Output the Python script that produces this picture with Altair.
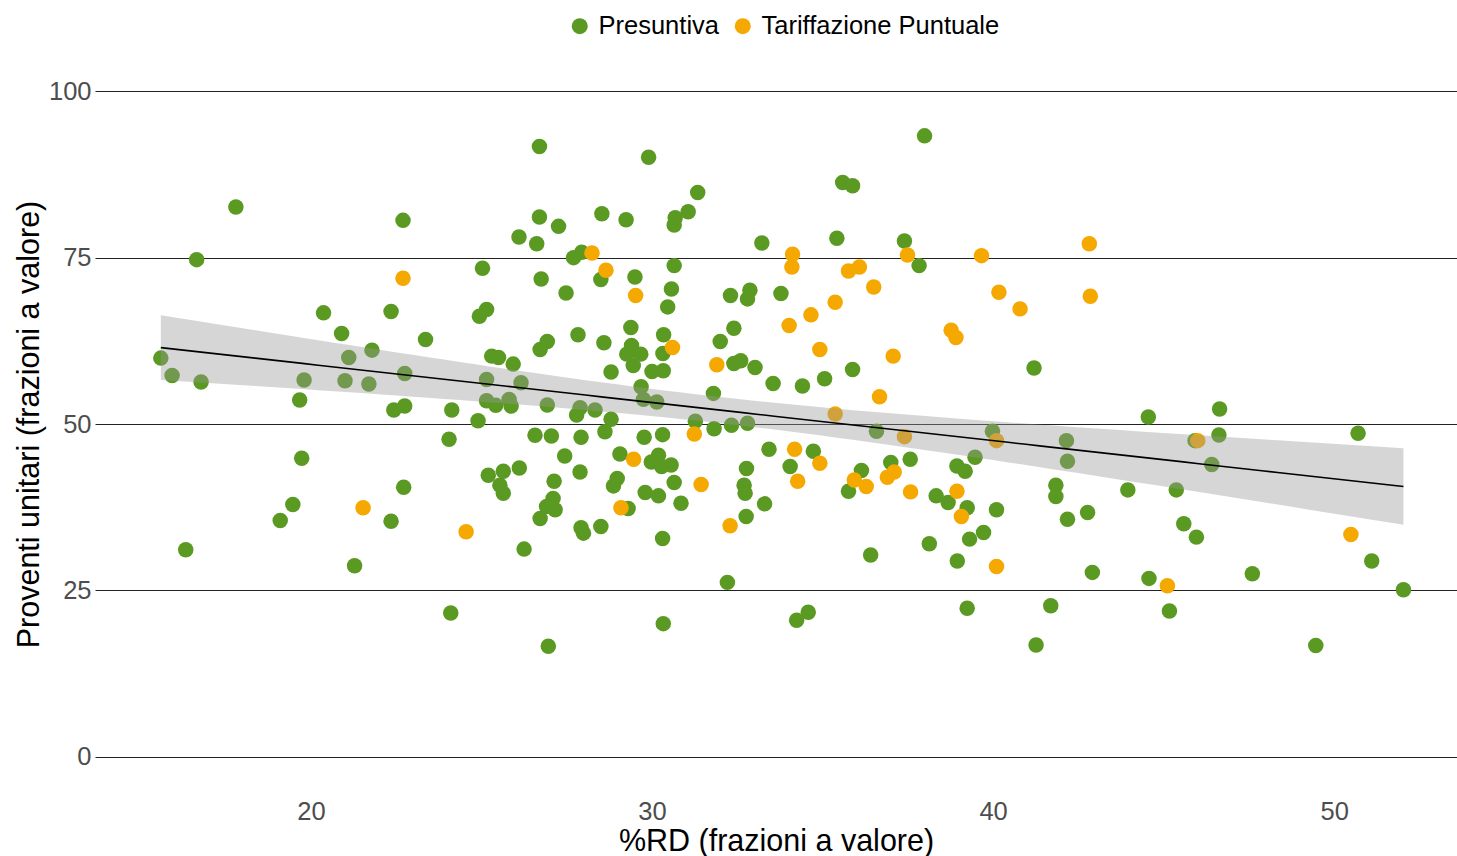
import altair as alt
import numpy as np
import pandas as pd

# ---- data ----
pres_x = [17.8, 22.7, 16.65, 20.37, 22.35, 20.9, 23.36, 21.79, 21.11, 15.6, 15.93, 16.78, 19.8, 21.0, 21.7,
          22.75, 19.67, 22.43, 22.75, 19.73, 22.72, 19.47, 19.1, 22.35, 16.33, 21.28,
          26.7, 29.9, 31.34, 31.06, 30.68, 30.65, 26.7, 28.53, 29.24, 27.26, 26.1, 26.62, 27.94, 27.7,
          25.03, 28.5, 26.75, 29.5, 30.65, 27.48, 30.57, 30.46, 32.3, 32.4, 32.0, 25.15, 24.94, 29.38,
          30.34, 30.32, 27.83, 28.59, 26.93, 26.72, 25.3, 25.5, 25.93, 29.4, 29.26, 29.67, 29.45, 32.4,
          32.6, 28.8, 30.0, 30.33,
          25.15, 26.16, 29.68, 29.75, 30.14, 31.8, 25.15, 25.42, 25.81, 25.87, 26.93, 27.89, 28.33, 27.79,
          28.8, 24.13, 24.9, 24.05, 31.27, 31.82, 32.33, 32.8, 26.57, 27.05, 27.92, 28.62, 29.77, 30.31,
          27.44, 29.06, 30.19, 29.98, 30.28, 30.56, 30.65, 30.85, 29.8, 30.19, 28.87, 28.98, 29.3, 27.89,
          27.13, 27.1, 26.91, 27.16, 26.72, 25.2, 25.64, 26.11, 25.54, 25.64, 27.92, 27.99, 28.5, 26.25,
          30.31, 32.21, 24.1, 30.33, 26.96, 32.77, 32.7, 32.73, 32.76,
          37.99, 35.59, 35.88, 33.22, 35.42, 37.4, 37.83, 32.87, 32.8, 33.78, 33.02, 35.88, 41.2, 33.55,
          34.41, 35.06, 36.58, 39.98, 39.47, 33.43, 34.73, 34.05, 33.3, 37.0, 37.57, 36.14, 35.76, 38.94,
          39.18, 38.33, 38.68, 39.24, 40.1, 39.72, 39.31, 38.13, 38.95, 36.41, 34.58, 34.24, 39.24, 41.26,
          44.55, 46.64, 50.7, 42.15, 42.18, 45.92, 46.62, 46.41, 41.84, 41.84, 43.95, 45.37, 42.18, 42.77,
          45.59, 45.96, 51.1, 52.03, 42.91, 44.57, 47.6, 41.69, 45.17, 49.46]
pres_y = [82.6, 80.6, 74.7, 66.7, 66.9, 63.6, 62.7, 61.1, 60.0, 59.9, 57.3, 56.3, 56.6, 56.5, 56.0,
          57.6, 53.6, 52.1, 52.7, 44.85, 40.5, 37.9, 35.5, 35.4, 31.1, 28.7,
          91.7, 90.1, 84.8, 81.9, 81.0, 79.9, 81.1, 81.6, 80.7, 79.7, 78.1, 77.1, 75.8, 75.0,
          73.4, 71.7, 71.8, 72.1, 73.8, 69.7, 70.3, 67.6, 69.3, 64.4, 62.4, 67.2, 66.2, 64.5,
          63.4, 60.6, 63.4, 62.2, 62.4, 61.2, 60.2, 60.0, 59.0, 61.8, 60.5, 60.5, 58.8, 59.1,
          59.5, 57.8, 57.9, 58.0,
          56.7, 56.2, 55.6, 53.7, 53.3, 54.6, 53.5, 52.8, 53.7, 52.7, 52.85, 52.45, 52.1, 51.35,
          50.7, 52.1, 50.5, 47.7, 50.4, 49.3, 49.8, 50.1, 48.3, 48.2, 48.0, 48.85, 48.0, 48.4,
          45.2, 45.5, 45.3, 44.3, 43.6, 43.85, 41.2, 38.1, 39.7, 39.2, 40.7, 41.8, 37.3, 42.8,
          41.4, 38.8, 37.6, 37.1, 35.8, 42.3, 42.9, 43.4, 40.8, 39.6, 34.4, 33.6, 34.6, 31.2,
          32.8, 26.2, 21.6, 20.0, 16.6, 43.3, 40.8, 39.6, 36.1,
          93.3, 86.3, 85.8, 77.2, 77.9, 77.5, 73.8, 70.1, 68.8, 69.6, 58.5, 58.2, 58.4, 56.1,
          55.7, 56.8, 48.9, 48.9, 45.0, 46.2, 45.9, 43.6, 38.0, 44.2, 44.7, 43.0, 39.9, 43.7,
          42.9, 39.2, 38.2, 37.4, 37.1, 33.7, 32.7, 32.0, 29.4, 30.3, 21.7, 20.5, 22.3, 16.8,
          51.05, 52.25, 48.6, 47.5, 44.4, 47.5, 48.35, 43.9, 40.8, 39.1, 40.1, 40.1, 35.7, 36.7,
          35.0, 33.0, 29.4, 25.1, 27.7, 26.8, 27.5, 22.7, 21.9, 16.7]

tp_x = [22.7, 21.53, 28.24, 28.65, 29.52, 30.6, 31.9, 31.24, 29.46, 31.44, 29.09, 24.55, 32.29, 34.12,
        34.1, 37.49, 39.66, 36.08, 35.76, 36.5, 40.17, 40.79, 35.37, 34.66, 34.02, 38.77, 38.91, 34.92,
        37.07, 36.67, 35.37, 37.4, 40.1, 34.18, 34.92, 34.27, 37.1, 36.9, 35.93, 36.28, 37.58, 38.94,
        39.07, 40.1, 42.82, 42.85, 46.0, 50.49, 45.11]
tp_y = [71.9, 37.4, 75.7, 73.1, 69.3, 61.5, 58.9, 48.5, 44.7, 40.9, 37.4, 33.8, 34.7, 75.5,
        73.6, 75.4, 75.3, 73.6, 73.0, 70.6, 69.8, 67.3, 68.3, 66.4, 64.8, 64.1, 63.0, 61.2,
        60.2, 54.1, 51.5, 48.1, 47.5, 46.2, 44.1, 41.4, 42.8, 42.0, 41.6, 40.6, 39.8, 39.9,
        36.1, 28.6, 77.1, 69.2, 47.5, 33.4, 25.7]

groups = ["Presuntiva", "Tariffazione Puntuale"]
colors = ["#5A9A22", "#F5A800"]
x_ticks = [20, 30, 40, 50]
y_ticks = [0, 25, 50, 75, 100]

df = pd.DataFrame({
    "x": pres_x + tp_x,
    "y": pres_y + tp_y,
    "gruppo": [groups[0]] * len(pres_x) + [groups[1]] * len(tp_x),
})

# linear fit with 95% confidence band, computed from the points (like geom_smooth(method="lm"))
xs = df["x"].to_numpy()
ys = df["y"].to_numpy()
n = len(xs)
b, a = np.polyfit(xs, ys, 1)
resid = ys - (a + b * xs)
s = np.sqrt(np.sum(resid ** 2) / (n - 2))
sxx = np.sum((xs - xs.mean()) ** 2)
xg = np.linspace(xs.min(), xs.max(), 80)
fit = a + b * xg
se = s * np.sqrt(1.0 / n + (xg - xs.mean()) ** 2 / sxx)
tcrit = 1.97
fit_df = pd.DataFrame({"x": xg, "fit": fit, "lo": fit - tcrit * se, "hi": fit + tcrit * se})

FONT = "Liberation Sans"
xscale = alt.Scale(domain=[13.67, 53.6], nice=False, zero=False)
yscale = alt.Scale(domain=[-5, 105], nice=False, zero=False)
XT = "%RD (frazioni a valore)"
YT = "Proventi unitari (frazioni a valore)"

points = alt.Chart(df).mark_circle(size=240, opacity=1).encode(
    x=alt.X("x:Q", scale=xscale, title=XT,
            axis=alt.Axis(values=x_ticks, grid=False, ticks=False, domain=False, labelPadding=9,
                          titlePadding=2)),
    y=alt.Y("y:Q", scale=yscale, title=YT,
            axis=alt.Axis(values=y_ticks, grid=True, ticks=False, domain=False, labelPadding=4,
                          titlePadding=4)),
    color=alt.Color("gruppo:N", scale=alt.Scale(domain=groups, range=colors),
                    legend=alt.Legend(title=None, orient="none", direction="horizontal",
                                      legendX=472, legendY=-45, symbolType="circle",
                                      symbolSize=256, symbolStrokeWidth=0, labelOffset=6,
                                      columnPadding=11, labelFontSize=25.5, labelColor="#000000",
                                      labelFont=FONT, labelLimit=0)),
)

band = alt.Chart(fit_df).mark_area(color="#999999", opacity=0.4).encode(
    x=alt.X("x:Q", scale=xscale, title=XT),
    y=alt.Y("lo:Q", scale=yscale, title=YT),
    y2="hi:Q",
)

line = alt.Chart(fit_df).mark_line(color="#000000", strokeWidth=1.6).encode(
    x=alt.X("x:Q", scale=xscale, title=XT),
    y=alt.Y("fit:Q", scale=yscale, title=YT),
)

chart = alt.layer(points, band, line).properties(
    width=1362, height=732,
    autosize=alt.AutoSizeParams(type="none"),
    padding={"left": 95, "top": 58, "right": 0, "bottom": 66},
    background="#FFFFFF",
).configure_view(stroke=None).configure_axis(
    labelFont=FONT, titleFont=FONT, labelFontSize=25.5, labelColor="#4D4D4D",
    titleFontSize=30.5, titleColor="#000000", titleFontWeight="normal",
    gridColor="#222222", gridWidth=1, gridOpacity=1,
)

chart.save("out.html", embed_options={"renderer": "svg", "actions": False})
